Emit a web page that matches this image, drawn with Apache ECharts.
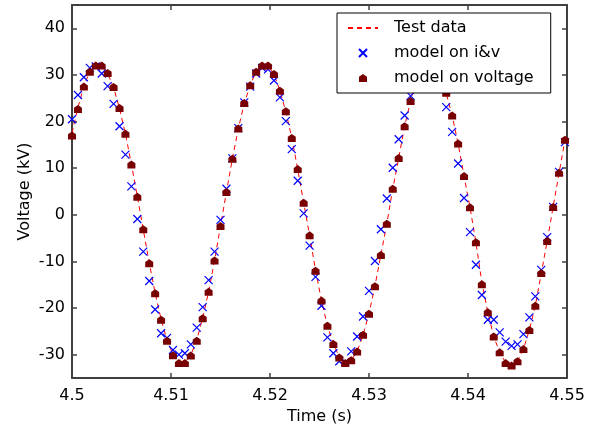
<!DOCTYPE html>
<html>
<head>
<meta charset="utf-8">
<script src="https://cdn.jsdelivr.net/npm/echarts@6/dist/echarts.min.js"></script>
<style>
html,body{margin:0;padding:0;background:#fff;}
#chart{width:602px;height:430px;}
</style>
</head>
<body>
<div id="chart"></div>
<script>
// ---- data ----
var times = [4.5000, 4.5006, 4.5012, 4.5018, 4.5024, 4.5030, 4.5036, 4.5042, 4.5048, 4.5054,
  4.5060, 4.5066, 4.5072, 4.5078, 4.5084, 4.5090, 4.5096, 4.5102, 4.5108, 4.5114,
  4.5120, 4.5126, 4.5132, 4.5138, 4.5144, 4.5150, 4.5156, 4.5162, 4.5168, 4.5174,
  4.5180, 4.5186, 4.5192, 4.5198, 4.5204, 4.5210, 4.5216, 4.5222, 4.5228, 4.5234,
  4.5240, 4.5246, 4.5252, 4.5258, 4.5264, 4.5270, 4.5276, 4.5282, 4.5288, 4.5294,
  4.5300, 4.5306, 4.5312, 4.5318, 4.5324, 4.5330, 4.5336, 4.5342, 4.5348, 4.5354,
  4.5360, 4.5366, 4.5372, 4.5378, 4.5384, 4.5390, 4.5396, 4.5402, 4.5408, 4.5414,
  4.5420, 4.5426, 4.5432, 4.5438, 4.5444, 4.5450, 4.5456, 4.5462, 4.5468, 4.5474,
  4.5480, 4.5486, 4.5492, 4.5498];

var testData = [17.5, 23.0, 27.6, 30.8, 32.0, 31.9, 30.3, 27.3, 22.8, 17.3,
  10.9, 3.9, -3.2, -10.3, -16.8, -22.4, -26.9, -30.0, -31.5, -31.6,
  -30.1, -26.9, -22.1, -16.5, -9.8, -2.4, 4.9, 12.0, 18.5, 23.9,
  27.8, 30.7, 31.9, 31.9, 30.2, 26.6, 22.1, 16.5, 9.8, 2.6,
  -4.4, -11.9, -18.4, -23.8, -27.7, -30.5, -31.7, -31.2, -29.3, -25.8,
  -21.2, -15.3, -8.6, -1.9, 5.5, 12.2, 19.0, 24.4, 28.4, 31.0,
  32.1, 31.8, 29.6, 26.0, 21.3, 15.3, 8.3, 1.6, -5.9, -14.5,
  -20.9, -26.1, -29.5, -31.7, -32.2, -31.4, -28.8, -24.7, -19.5, -12.6,
  -5.6, 1.7, 9.0, 16.1];

var modelIV = [20.5, 25.7, 29.5, 31.5, 31.8, 30.3, 27.6, 23.8, 19.0, 12.9,
  6.1, -0.9, -7.9, -14.2, -20.3, -25.4, -26.4, -29.0, -30.0, -29.7,
  -27.8, -24.2, -19.8, -14.0, -7.9, -1.1, 5.6, 12.1, 18.6, 24.1,
  27.5, 30.3, 31.5, 31.2, 28.8, 25.2, 20.1, 14.1, 7.3, 0.3,
  -6.6, -13.3, -19.5, -26.3, -29.7, -31.4, -31.6, -29.3, -26.1, -21.8,
  -16.3, -9.9, -3.1, 3.5, 10.1, 16.2, 21.3, 25.5, 28.8, 30.8,
  31.5, 30.8, 28.0, 23.1, 17.8, 11.0, 3.6, -3.7, -10.7, -17.2,
  -22.5, -22.5, -25.2, -27.2, -28.1, -27.8, -25.6, -22.0, -17.5, -11.8,
  -4.8, 1.7, 9.2, 15.6];

var modelV = [17.0, 22.7, 27.5, 30.7, 32.0, 32.0, 30.4, 27.4, 22.9, 17.4,
  10.8, 3.9, -3.1, -10.4, -16.8, -22.5, -27.0, -30.1, -31.8, -31.8,
  -30.2, -27.0, -22.2, -16.5, -9.8, -2.4, 4.9, 12.0, 18.5, 24.0,
  27.8, 30.7, 32.0, 32.0, 30.2, 26.6, 22.2, 16.5, 9.8, 2.6,
  -4.4, -12.0, -18.4, -23.8, -27.7, -30.6, -31.8, -31.2, -29.3, -25.7,
  -21.2, -15.3, -8.6, -1.9, 5.6, 12.2, 19.0, 24.4, 28.4, 31.0,
  32.1, 31.8, 29.6, 26.2, 21.3, 15.3, 8.3, 1.6, -5.9, -14.9,
  -20.9, -26.1, -29.5, -31.8, -32.3, -31.4, -28.8, -24.7, -19.5, -12.5,
  -5.6, 1.7, 9.0, 16.1];

var seriesNames = ['Test data', 'model on i&v', 'model on voltage'];
var xTicks = [4.5, 4.51, 4.52, 4.53, 4.54, 4.55];
var xTickLabels = ['4.5', '4.51', '4.52', '4.53', '4.54', '4.55'];
var yTicks = [-30, -20, -10, 0, 10, 20, 30, 40];
var yTickLabels = ['-30', '-20', '-10', '0', '10', '20', '30', '40'];
var xTitle = 'Time (s)';
var yTitle = 'Voltage (kV)';

// ---- chart ----
function pairs(vals) { return times.map(function (t, i) { return [t, vals[i]]; }); }
var FONT = 'DejaVu Sans';
var axisColor = '#404040';

function xAxisCfg(pos, main) {
  return {
    type: 'value', position: pos, min: 4.5, max: 4.55,
    axisLine: { show: true, onZero: false, lineStyle: { color: axisColor, width: 2 } },
    axisTick: { show: true, inside: true, length: 5, customValues: xTicks, lineStyle: { color: axisColor, width: 1.5 } },
    axisLabel: main ? {
      show: true, customValues: xTicks, margin: 10, fontSize: 16, color: '#000', fontFamily: FONT,
      formatter: function (v) { var k = xTicks.indexOf(v); return k >= 0 ? xTickLabels[k] : ''; }
    } : { show: false },
    splitLine: { show: false },
    name: main ? xTitle : '', nameLocation: 'middle', nameGap: 31, nameMoveOverlap: false,
    nameTextStyle: { fontSize: 16, color: '#000', fontFamily: FONT }
  };
}
function yAxisCfg(pos, main) {
  return {
    type: 'value', position: pos, min: -35, max: 45,
    axisLine: { show: true, onZero: false, lineStyle: { color: axisColor, width: 2 } },
    axisTick: { show: true, inside: true, length: 5, customValues: yTicks, lineStyle: { color: axisColor, width: 1.5 } },
    axisLabel: main ? {
      show: true, customValues: yTicks, margin: 7, fontSize: 16, color: '#000', fontFamily: FONT,
      formatter: function (v) { var k = yTicks.indexOf(v); return k >= 0 ? yTickLabels[k] : ''; }
    } : { show: false },
    splitLine: { show: false },
    name: main ? yTitle : '', nameLocation: 'middle', nameGap: 39, nameRotate: 90, nameMoveOverlap: false,
    nameTextStyle: { fontSize: 16, color: '#000', fontFamily: FONT }
  };
}

var chart = echarts.init(document.getElementById('chart'), null, { renderer: 'canvas' });
chart.setOption({
  animation: false,
  backgroundColor: '#fff',
  grid: { left: 72, right: 35, top: 5, bottom: 52, containLabel: false },
  xAxis: [xAxisCfg('bottom', true), xAxisCfg('top', false)],
  yAxis: [yAxisCfg('left', true), yAxisCfg('right', false)],
  legend: {
    data: [
      { name: seriesNames[0], itemStyle: { opacity: 0 } },
      { name: seriesNames[1] },
      { name: seriesNames[2] }
    ],
    orient: 'vertical',
    left: 337, top: 13,
    z: 20,
    padding: [7, 17, 7, 10],
    itemWidth: 30, itemHeight: 8, itemGap: 9,
    backgroundColor: '#fff', borderColor: '#000', borderWidth: 1,
    textStyle: { fontSize: 16, lineHeight: 16, color: '#000', fontFamily: FONT, padding: [0, 0, 0, 11] }
  },
  series: [
    {
      name: seriesNames[0], type: 'line', data: pairs(testData),
      showSymbol: false, symbol: 'none', smooth: false,
      lineStyle: { color: '#ff0000', width: 1, type: [5, 4] },
      itemStyle: { color: '#ff0000' }, z: 2
    },
    {
      name: seriesNames[1], type: 'scatter', data: pairs(modelIV),
      symbol: 'path://M0,0L10,10M10,0L0,10', symbolSize: 8,
      itemStyle: { color: 'none', borderColor: '#0000ff', borderWidth: 1.2, opacity: 1 }, z: 3
    },
    {
      name: seriesNames[2], type: 'scatter', data: pairs(modelV),
      symbol: 'path://M5,0L10,3.5L10,10L0,10L0,3.5Z', symbolSize: 8,
      itemStyle: { color: '#780000', opacity: 1 }, z: 3
    }
  ]
});
</script>
</body>
</html>
